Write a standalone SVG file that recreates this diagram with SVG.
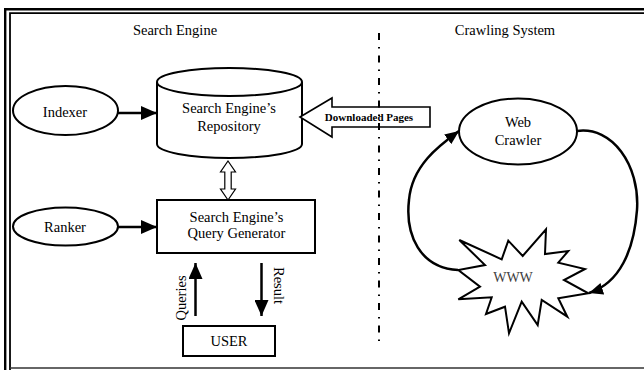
<svg xmlns="http://www.w3.org/2000/svg" width="644" height="370" viewBox="0 0 644 370">
<style>
text{font-family:"Liberation Serif","Times New Roman",serif;font-size:14.5px;fill:#000;text-anchor:middle}
.shape{fill:#fff;stroke:#000;stroke-width:2}
.conn{fill:none;stroke:#000;stroke-width:2.5}
.arc{fill:none;stroke:#000;stroke-width:2.5}
</style>
<defs>
<marker id="ah" viewBox="0 0 16 14" refX="16" refY="7" markerWidth="16" markerHeight="14" markerUnits="userSpaceOnUse" orient="auto">
<path d="M0,0 L16,7 L0,14 z" fill="#000"/>
</marker>
<marker id="ah2" viewBox="0 0 14 12" refX="14" refY="6" markerWidth="14" markerHeight="12" markerUnits="userSpaceOnUse" orient="auto">
<path d="M0,0 L14,6 L0,12 z" fill="#000"/>
</marker>
</defs>
<rect width="644" height="370" fill="#fff"/>
<g id="frame" fill="none">
<path d="M5.2,370 V9.2 H644" stroke="#000" stroke-width="2.4"/>
<path d="M10,370 V13.2 H644" stroke="#000" stroke-width="1.8"/>
<path d="M10,368 H644" stroke="#333" stroke-width="1.6"/>
</g>
<g id="titles">
<text x="175" y="35">Search Engine</text>
<text x="505" y="35">Crawling System</text>
</g>
<g id="indexer">
<ellipse class="shape" cx="65.5" cy="110.5" rx="52.5" ry="24.5"/>
<text x="65" y="117">Indexer</text>
</g>
<g id="ranker">
<ellipse class="shape" cx="65.5" cy="226.5" rx="52.5" ry="19"/>
<text x="65" y="231.5">Ranker</text>
</g>
<g id="repository">
<path class="shape" d="M157,82 V144 A72.5,14 0 0 0 302,144 V82"/>
<ellipse class="shape" cx="229.5" cy="82" rx="72.5" ry="14"/>
<text x="229" y="113">Search Engine’s</text>
<text x="229" y="130.5">Repository</text>
</g>
<g id="query-generator">
<rect class="shape" x="157" y="200" width="158" height="53"/>
<text x="236.5" y="221.5">Search Engine’s</text>
<text x="236.5" y="238">Query Generator</text>
</g>
<g id="user">
<rect class="shape" x="183" y="326" width="92" height="30"/>
<text x="229" y="346">USER</text>
</g>
<g id="web-crawler">
<ellipse class="shape" cx="518" cy="131.5" rx="59" ry="33"/>
<text x="518" y="127">Web</text>
<text x="518" y="144.5">Crawler</text>
</g>
<g id="connectors">
<line class="conn" x1="118" y1="113" x2="157" y2="113" marker-end="url(#ah)"/>
<line class="conn" x1="118" y1="227" x2="157" y2="227" marker-end="url(#ah)"/>
<line class="conn" x1="195.5" y1="316" x2="195.5" y2="263" marker-end="url(#ah)"/>
<line class="conn" x1="261.5" y1="263" x2="261.5" y2="316" marker-end="url(#ah)"/>
<polygon points="228,161 235.5,172 231.2,172 231.2,189 235.5,189 228,200 220.5,189 224.8,189 224.8,172 220.5,172" fill="#fff" stroke="#000" stroke-width="1.2"/>
<path class="arc" d="M458,270 C420,268 405,235 409,200 C412,165 440,145 459,131" marker-end="url(#ah2)"/>
<path class="arc" d="M577,131 C612,126 640,165 637,210 C634,250 620,283 589,293" marker-end="url(#ah2)"/>
<g id="downloaded-pages">
<polygon points="300,117 332,98 332,107 430,107 430,127 332,127 332,137" fill="#fff" stroke="#000" stroke-width="1.6"/>
<text x="369" y="121" style="font-size:11px;font-weight:bold">Downloaded Pages</text>
</g>
<text transform="translate(185.5,298) rotate(-90)" x="0" y="0">Queries</text>
<text transform="translate(273.5,285.5) rotate(90)" x="0" y="0">Result</text>
</g>
<g id="www">
<polygon class="shape" points="459.3,240 501.7,259.3 508.3,240.7 522.7,256 546,229.3 545,254 568.3,251 558.3,262.7 585,269 564,280 588.3,293.3 558.3,298.3 567.3,316.7 541.7,300 537.7,325 521.7,301.7 509,333.3 505,306.7 486,314 491.7,297.3 458.3,299.3 480,286.7 458.3,270 485,265"/>
<text x="513" y="282" style="font-size:14px;fill:#404040">WWW</text>
</g>
<line id="divider" x1="379" y1="33" x2="379" y2="348" stroke="#000" stroke-width="2" stroke-dasharray="7 7 1.5 7"/>
</svg>
